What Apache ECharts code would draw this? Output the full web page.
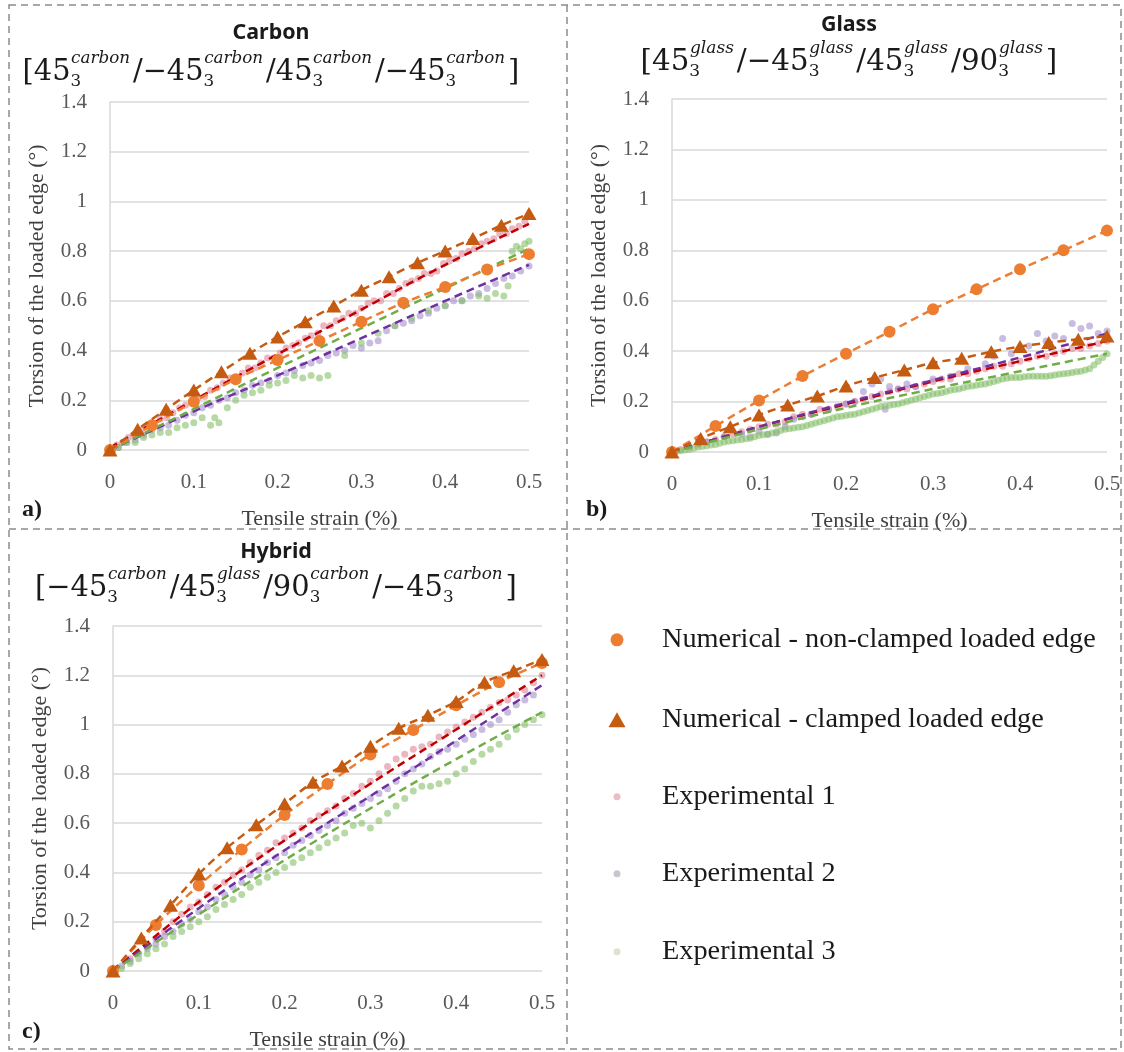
<!DOCTYPE html>
<html>
<head>
<meta charset="utf-8">
<script src="https://cdn.jsdelivr.net/npm/echarts@6.0.0/dist/echarts.min.js"></script>
<style>
  html, body { margin: 0; padding: 0; background: #ffffff; }
  #chart { width: 1124px; height: 1052px; }
</style>
</head>
<body>
<div id="chart"></div>
<script>
// ---------- data ----------
const NAME_FREE = 'Numerical - non-clamped loaded edge';
const NAME_CLAMP = 'Numerical - clamped loaded edge';
const NAME_EXP = ['Experimental 1', 'Experimental 2', 'Experimental 3'];

const yTicks = [0, 0.2, 0.4, 0.6, 0.8, 1, 1.2, 1.4];
const xTicks = [0, 0.1, 0.2, 0.3, 0.4, 0.5];

// strain steps of the two numerical models
const xFree = [0, 0.05, 0.1, 0.15, 0.2, 0.25, 0.3, 0.35, 0.4, 0.45, 0.5];
const xClamp = [0, 0.033, 0.067, 0.1, 0.133, 0.167, 0.2, 0.233, 0.267, 0.3, 0.333, 0.367, 0.4, 0.433, 0.467, 0.5];
// strain points of the dashed trend curves
const xTrend = [0, 0.1, 0.2, 0.3, 0.4, 0.5];

// Carbon
const carbonFree = [0, 0.10, 0.194, 0.285, 0.362, 0.439, 0.516, 0.592, 0.656, 0.726, 0.788];
const carbonClamp = [0, 0.083, 0.164, 0.241, 0.315, 0.389, 0.455, 0.516, 0.579, 0.643, 0.697, 0.753, 0.801, 0.851, 0.904, 0.951];
const carbonExp1 = [[0,0],[0.008,0.02],[0.015,0.03],[0.022,0.05],[0.03,0.055],[0.037,0.08],[0.045,0.09],[0.052,0.1],[0.06,0.125],[0.068,0.13],[0.075,0.15],[0.083,0.17],[0.09,0.18],[0.098,0.19],[0.105,0.21],[0.113,0.215],[0.12,0.24],[0.128,0.25],[0.135,0.27],[0.143,0.29],[0.15,0.29],[0.158,0.31],[0.165,0.33],[0.173,0.33],[0.18,0.35],[0.188,0.37],[0.195,0.37],[0.203,0.39],[0.21,0.41],[0.218,0.42],[0.225,0.43],[0.233,0.45],[0.24,0.46],[0.248,0.47],[0.255,0.5],[0.263,0.5],[0.27,0.52],[0.278,0.53],[0.285,0.55],[0.293,0.55],[0.3,0.57],[0.308,0.59],[0.315,0.6],[0.323,0.6],[0.33,0.63],[0.338,0.63],[0.345,0.65],[0.353,0.67],[0.36,0.68],[0.368,0.69],[0.375,0.71],[0.383,0.71],[0.39,0.72],[0.398,0.75],[0.405,0.76],[0.413,0.77],[0.42,0.79],[0.428,0.8],[0.435,0.81],[0.443,0.83],[0.45,0.84],[0.458,0.85],[0.465,0.87],[0.473,0.87],[0.48,0.89],[0.488,0.9],[0.495,0.92]];
const carbonExp2 = [[0,0],[0.01,0.01],[0.02,0.03],[0.03,0.04],[0.04,0.06],[0.05,0.08],[0.06,0.09],[0.07,0.1],[0.08,0.12],[0.09,0.14],[0.1,0.15],[0.11,0.17],[0.12,0.18],[0.13,0.2],[0.14,0.21],[0.15,0.23],[0.16,0.24],[0.17,0.26],[0.18,0.27],[0.19,0.28],[0.2,0.3],[0.21,0.31],[0.22,0.32],[0.23,0.34],[0.24,0.35],[0.25,0.36],[0.26,0.38],[0.27,0.39],[0.28,0.4],[0.29,0.42],[0.3,0.41],[0.31,0.43],[0.32,0.44],[0.33,0.48],[0.34,0.5],[0.35,0.51],[0.36,0.52],[0.37,0.54],[0.38,0.55],[0.39,0.57],[0.4,0.58],[0.41,0.6],[0.42,0.6],[0.43,0.62],[0.44,0.63],[0.45,0.65],[0.46,0.67],[0.47,0.69],[0.48,0.7],[0.49,0.72],[0.5,0.74]];
const carbonExp3 = [[0,0],[0.01,0.01],[0.02,0.03],[0.03,0.03],[0.04,0.05],[0.05,0.06],[0.06,0.07],[0.07,0.07],[0.08,0.09],[0.09,0.1],[0.1,0.11],[0.11,0.13],[0.12,0.1],[0.125,0.13],[0.13,0.11],[0.14,0.17],[0.15,0.2],[0.16,0.22],[0.17,0.23],[0.18,0.24],[0.19,0.26],[0.2,0.27],[0.21,0.28],[0.22,0.3],[0.23,0.29],[0.24,0.3],[0.25,0.29],[0.26,0.3],[0.28,0.38],[0.3,0.43],[0.32,0.47],[0.34,0.5],[0.36,0.53],[0.38,0.56],[0.4,0.58],[0.42,0.6],[0.44,0.62],[0.45,0.61],[0.46,0.63],[0.47,0.62],[0.475,0.66],[0.48,0.8],[0.485,0.82],[0.49,0.81],[0.495,0.83],[0.5,0.84]];
const carbonTrend1 = [0.01, 0.20, 0.385, 0.565, 0.745, 0.91];
const carbonTrend2 = [0, 0.155, 0.30, 0.45, 0.60, 0.745];
const carbonTrend3 = [0, 0.165, 0.33, 0.49, 0.65, 0.81];

// Glass
const glassFree = [0, 0.103, 0.204, 0.301, 0.39, 0.477, 0.566, 0.645, 0.725, 0.80, 0.878];
const glassClamp = [0, 0.054, 0.10, 0.147, 0.186, 0.222, 0.262, 0.295, 0.325, 0.354, 0.372, 0.398, 0.418, 0.434, 0.447, 0.46];
const glassExp1 = [[0,0],[0.01,0.01],[0.02,0.02],[0.03,0.03],[0.04,0.04],[0.05,0.05],[0.06,0.06],[0.07,0.07],[0.08,0.08],[0.09,0.09],[0.1,0.1],[0.11,0.11],[0.12,0.11],[0.13,0.12],[0.14,0.14],[0.15,0.15],[0.16,0.15],[0.17,0.17],[0.18,0.17],[0.19,0.18],[0.2,0.19],[0.21,0.2],[0.22,0.21],[0.23,0.22],[0.24,0.23],[0.25,0.24],[0.26,0.25],[0.27,0.25],[0.28,0.26],[0.29,0.27],[0.3,0.28],[0.31,0.29],[0.32,0.29],[0.33,0.31],[0.34,0.31],[0.35,0.32],[0.36,0.33],[0.37,0.34],[0.38,0.34],[0.39,0.35],[0.4,0.36],[0.41,0.37],[0.42,0.38],[0.43,0.38],[0.44,0.39],[0.45,0.4],[0.46,0.41],[0.47,0.41],[0.48,0.42],[0.49,0.43],[0.5,0.44]];
const glassExp2 = [[0,0],[0.02,0.02],[0.04,0.04],[0.06,0.06],[0.08,0.07],[0.09,0.06],[0.1,0.08],[0.11,0.07],[0.12,0.075],[0.13,0.1],[0.14,0.13],[0.15,0.14],[0.16,0.15],[0.18,0.17],[0.2,0.19],[0.21,0.2],[0.22,0.24],[0.23,0.27],[0.24,0.29],[0.245,0.17],[0.25,0.26],[0.26,0.25],[0.27,0.27],[0.28,0.26],[0.3,0.29],[0.32,0.3],[0.34,0.33],[0.36,0.35],[0.37,0.38],[0.38,0.45],[0.39,0.39],[0.4,0.41],[0.41,0.42],[0.42,0.47],[0.43,0.44],[0.44,0.46],[0.45,0.45],[0.46,0.51],[0.47,0.49],[0.48,0.5],[0.49,0.47],[0.5,0.48]];
const glassExp3 = [[0,0],[0.005,0.003],[0.01,0.005],[0.015,0.008],[0.02,0.01],[0.025,0.015],[0.03,0.02],[0.035,0.022],[0.04,0.025],[0.045,0.028],[0.05,0.03],[0.055,0.035],[0.06,0.04],[0.065,0.043],[0.07,0.045],[0.075,0.048],[0.08,0.05],[0.085,0.053],[0.09,0.055],[0.095,0.06],[0.1,0.065],[0.105,0.068],[0.11,0.07],[0.115,0.075],[0.12,0.08],[0.125,0.085],[0.13,0.09],[0.135,0.092],[0.14,0.095],[0.145,0.098],[0.15,0.1],[0.155,0.105],[0.16,0.11],[0.165,0.115],[0.17,0.12],[0.175,0.125],[0.18,0.13],[0.185,0.135],[0.19,0.14],[0.195,0.142],[0.2,0.145],[0.205,0.148],[0.21,0.15],[0.215,0.155],[0.22,0.16],[0.225,0.165],[0.23,0.17],[0.235,0.175],[0.24,0.18],[0.245,0.182],[0.25,0.185],[0.255,0.188],[0.26,0.19],[0.265,0.195],[0.27,0.2],[0.275,0.205],[0.28,0.21],[0.285,0.215],[0.29,0.22],[0.295,0.225],[0.3,0.23],[0.305,0.232],[0.31,0.235],[0.315,0.24],[0.32,0.245],[0.325,0.248],[0.33,0.25],[0.335,0.255],[0.34,0.26],[0.345,0.262],[0.35,0.265],[0.355,0.268],[0.36,0.27],[0.365,0.275],[0.37,0.28],[0.375,0.285],[0.38,0.29],[0.385,0.292],[0.39,0.295],[0.395,0.295],[0.4,0.295],[0.405,0.298],[0.41,0.3],[0.415,0.3],[0.42,0.3],[0.425,0.3],[0.43,0.3],[0.435,0.302],[0.44,0.305],[0.445,0.308],[0.45,0.31],[0.455,0.312],[0.46,0.315],[0.465,0.318],[0.47,0.32],[0.475,0.325],[0.48,0.33],[0.485,0.345],[0.49,0.36],[0.495,0.375],[0.5,0.39]];
const glassTrend1 = [0, 0.1, 0.19, 0.28, 0.36, 0.44];
const glassTrend2 = [0, 0.1, 0.195, 0.285, 0.375, 0.47];
const glassTrend3 = [0, 0.09, 0.175, 0.25, 0.32, 0.39];

// Hybrid
const hybridFree = [0, 0.187, 0.347, 0.493, 0.633, 0.759, 0.879, 0.978, 1.078, 1.172, 1.25];
const hybridClamp = [0, 0.134, 0.267, 0.394, 0.50, 0.593, 0.679, 0.766, 0.832, 0.912, 0.985, 1.038, 1.094, 1.172, 1.218, 1.264];
const hybridExp1 = [[0,0],[0.02,0.05],[0.04,0.1],[0.05,0.13],[0.06,0.16],[0.07,0.2],[0.08,0.23],[0.09,0.26],[0.1,0.28],[0.11,0.31],[0.12,0.34],[0.13,0.36],[0.14,0.39],[0.15,0.41],[0.16,0.44],[0.17,0.47],[0.18,0.49],[0.19,0.52],[0.2,0.54],[0.21,0.56],[0.22,0.58],[0.23,0.61],[0.24,0.63],[0.25,0.65],[0.26,0.67],[0.27,0.7],[0.28,0.72],[0.29,0.75],[0.3,0.77],[0.31,0.8],[0.32,0.83],[0.33,0.86],[0.34,0.88],[0.35,0.9],[0.36,0.91],[0.37,0.92],[0.38,0.95],[0.39,0.97],[0.4,0.99],[0.41,1.01],[0.42,1.03],[0.43,1.05],[0.44,1.07],[0.45,1.09],[0.46,1.1],[0.47,1.12],[0.48,1.14],[0.49,1.17],[0.5,1.2]];
const hybridExp2 = [[0,0],[0.01,0.02],[0.02,0.04],[0.03,0.07],[0.04,0.09],[0.05,0.11],[0.06,0.14],[0.07,0.16],[0.08,0.19],[0.09,0.21],[0.1,0.24],[0.11,0.26],[0.12,0.29],[0.13,0.31],[0.14,0.34],[0.15,0.36],[0.16,0.39],[0.17,0.41],[0.18,0.44],[0.19,0.46],[0.2,0.48],[0.21,0.51],[0.22,0.53],[0.23,0.55],[0.24,0.57],[0.25,0.59],[0.26,0.61],[0.27,0.64],[0.28,0.66],[0.29,0.68],[0.3,0.7],[0.31,0.72],[0.32,0.74],[0.33,0.77],[0.34,0.8],[0.35,0.82],[0.36,0.84],[0.37,0.87],[0.38,0.89],[0.39,0.9],[0.4,0.92],[0.41,0.94],[0.42,0.96],[0.43,0.98],[0.44,1.0],[0.45,1.02],[0.46,1.05],[0.47,1.08],[0.48,1.1],[0.49,1.12]];
const hybridExp3 = [[0,0],[0.01,0.01],[0.02,0.03],[0.03,0.05],[0.04,0.07],[0.05,0.09],[0.06,0.11],[0.07,0.14],[0.08,0.16],[0.09,0.18],[0.1,0.2],[0.11,0.22],[0.12,0.25],[0.13,0.27],[0.14,0.29],[0.15,0.31],[0.16,0.34],[0.17,0.36],[0.18,0.38],[0.19,0.4],[0.2,0.42],[0.21,0.44],[0.22,0.46],[0.23,0.48],[0.24,0.5],[0.25,0.52],[0.26,0.54],[0.27,0.56],[0.28,0.59],[0.29,0.6],[0.3,0.58],[0.31,0.61],[0.32,0.64],[0.33,0.67],[0.34,0.7],[0.35,0.73],[0.36,0.75],[0.37,0.75],[0.38,0.76],[0.39,0.77],[0.4,0.8],[0.41,0.82],[0.42,0.85],[0.43,0.88],[0.44,0.9],[0.45,0.92],[0.46,0.95],[0.47,0.98],[0.48,1.0],[0.49,1.02],[0.5,1.04]];
const hybridTrend1 = [0, 0.28, 0.53, 0.76, 0.98, 1.2];
const hybridTrend2 = [0, 0.255, 0.49, 0.71, 0.935, 1.16];
const hybridTrend3 = [0, 0.23, 0.45, 0.66, 0.86, 1.05];

// panel headings and lay-up formulas ([text] = upright, [sup, sub] = scripts)
const panelTitles = ['Carbon', 'Glass', 'Hybrid'];
const panelTags = ['a)', 'b)', 'c)'];
const layupCarbon = ['[45', ['carbon', '3'], '/−45', ['carbon', '3'], '/45', ['carbon', '3'], '/−45', ['carbon', '3'], ']'];
const layupGlass = ['[45', ['glass', '3'], '/−45', ['glass', '3'], '/45', ['glass', '3'], '/90', ['glass', '3'], ']'];
const layupHybrid = ['[−45', ['carbon', '3'], '/45', ['glass', '3'], '/90', ['carbon', '3'], '/−45', ['carbon', '3'], ']'];

// ---------- styling ----------
const SERIF = '"Liberation Serif", "Times New Roman", serif';
const MATH = '"DejaVu Serif", serif';
const SANS = '"Noto Sans", "Open Sans", sans-serif';
const C_FREE = '#ED7D31', C_CLAMP = '#C55A11';
const C_EXP = ['#E08597', '#9A86C8', '#86C06A'];
const EXP_OPACITY = [0.6, 0.55, 0.6];
const C_TREND = ['#C00000', '#7030A0', '#70AD47'];
const C_LEGEND_EXP = ['#EBBEC5', '#C9C5D0', '#DCE3CF'];
const GRID_LINE = '#D9D9D9';

const panels = [
  { free: carbonFree, clamp: carbonClamp, exp: [carbonExp1, carbonExp2, carbonExp3], trend: [carbonTrend1, carbonTrend2, carbonTrend3],
    grid: { left: 110, top: 102, width: 419, height: 348 }, layup: layupCarbon,
    titleX: 271, titleY: 33, layupY: 72, layupW: 497, tag: [22, 510] },
  { free: glassFree, clamp: glassClamp, exp: [glassExp1, glassExp2, glassExp3], trend: [glassTrend1, glassTrend2, glassTrend3],
    grid: { left: 672, top: 99, width: 435, height: 353 }, layup: layupGlass,
    titleX: 849, titleY: 25, layupY: 62, layupW: 417, tag: [586, 510] },
  { free: hybridFree, clamp: hybridClamp, exp: [hybridExp1, hybridExp2, hybridExp3], trend: [hybridTrend1, hybridTrend2, hybridTrend3],
    grid: { left: 113, top: 626, width: 429, height: 351 }, layup: layupHybrid,
    titleX: 276, titleY: 552, layupY: 588, layupW: 482, tag: [22, 1032] }
];

// ---------- text measuring helpers ----------
const mctx = document.createElement('canvas').getContext('2d');
function textWidth(str, font) { mctx.font = font; return mctx.measureText(str).width; }
function fitSize(str, weight, family, target) {
  return 100 * target / textWidth(str, weight + ' 100px ' + family);
}

// lay-up formula as a row of text pieces with super/subscripts
function layupGraphic(parts, cx, cy, targetW) {
  const ratio = 0.58;
  const widthAt = (B) => {
    const s = B * ratio;
    return parts.map(p => typeof p === 'string'
      ? textWidth(p, B + 'px ' + MATH)
      : Math.max(textWidth(p[0], 'italic ' + s + 'px ' + MATH), textWidth(p[1], s + 'px ' + MATH)) + 0.12 * B);
  };
  const w100 = widthAt(100).reduce((a, b) => a + b, 0);
  const B = 100 * targetW / w100;
  const s = B * ratio;
  const widths = widthAt(B);
  let x = cx - targetW / 2;
  const els = [];
  parts.forEach((p, i) => {
    if (typeof p === 'string') {
      els.push({ type: 'text', x: x, y: cy, silent: true, style: { text: p, font: B + 'px ' + MATH, fill: '#1a1a1a', align: 'left', verticalAlign: 'middle' } });
    } else {
      els.push({ type: 'text', x: x + 0.02 * B, y: cy - 0.45 * B, silent: true, style: { text: p[0], font: 'italic ' + s + 'px ' + MATH, fill: '#1a1a1a', align: 'left', verticalAlign: 'middle' } });
      els.push({ type: 'text', x: x, y: cy + 0.33 * B, silent: true, style: { text: p[1], font: s + 'px ' + MATH, fill: '#1a1a1a', align: 'left', verticalAlign: 'middle' } });
    }
    x += widths[i];
  });
  return els;
}

// ---------- option ----------
const grids = [], xAxes = [], yAxes = [], series = [], graphics = [];
const titleSize = fitSize('Carbon', 'bold', SANS, 77);

panels.forEach((p, i) => {
  grids.push(Object.assign({ containLabel: false }, p.grid));
  xAxes.push({
    gridIndex: i, type: 'value', min: xTicks[0], max: xTicks[xTicks.length - 1], interval: 0.1,
    axisLine: { show: false }, axisTick: { show: false }, splitLine: { show: false },
    axisLabel: { margin: 22, fontFamily: SERIF, fontSize: 21, color: '#595959' },
    name: 'Tensile strain (%)', nameLocation: 'middle', nameGap: 58,
    nameTextStyle: { fontFamily: SERIF, fontSize: 22, color: '#404040' }
  });
  yAxes.push({
    gridIndex: i, type: 'value', min: yTicks[0], max: yTicks[yTicks.length - 1], interval: 0.2,
    axisLine: { show: true, lineStyle: { color: GRID_LINE, width: 1.5 } }, axisTick: { show: false },
    splitLine: { show: true, lineStyle: { color: GRID_LINE, width: 1.5 } },
    axisLabel: { margin: 23, fontFamily: SERIF, fontSize: 21, color: '#595959' },
    name: 'Torsion of the loaded edge (°)', nameLocation: 'middle', nameGap: 62,
    nameTextStyle: { fontFamily: SERIF, fontSize: 22, color: '#404040' }
  });

  // experimental readings
  p.exp.forEach((d, k) => {
    series.push({
      name: NAME_EXP[k], type: 'scatter', xAxisIndex: i, yAxisIndex: i, data: d,
      symbol: 'circle', symbolSize: 7, z: 2, silent: true,
      itemStyle: { color: C_EXP[k], opacity: EXP_OPACITY[k] }
    });
  });
  // trend curves of the experimental readings
  p.trend.forEach((t, k) => {
    series.push({
      name: 'Trend ' + (k + 1), type: 'line', xAxisIndex: i, yAxisIndex: i,
      data: xTrend.map((x, j) => [x, t[j]]), smooth: true, showSymbol: false, z: 3, silent: true,
      lineStyle: { color: C_TREND[k], width: 2.5, type: [8, 5] }
    });
  });
  // numerical models
  series.push({
    name: NAME_FREE, type: 'line', xAxisIndex: i, yAxisIndex: i,
    data: xFree.map((x, j) => [x, p.free[j]]), smooth: 0.3, symbol: 'circle', symbolSize: 12, z: 4, silent: true,
    itemStyle: { color: C_FREE }, lineStyle: { color: C_FREE, width: 2.5, type: [8, 5] }
  });
  series.push({
    name: NAME_CLAMP, type: 'line', xAxisIndex: i, yAxisIndex: i,
    data: xClamp.map((x, j) => [x, p.clamp[j]]), smooth: 0.3, symbol: 'triangle', symbolSize: [15, 13], z: 5, silent: true,
    itemStyle: { color: C_CLAMP }, lineStyle: { color: C_CLAMP, width: 2.5, type: [8, 5] }
  });

  // headings
  graphics.push({ type: 'text', x: p.titleX, y: p.titleY, silent: true, style: { text: panelTitles[i], font: 'bold ' + titleSize + 'px ' + SANS, fill: '#1a1a1a', align: 'center', verticalAlign: 'middle' } });
  layupGraphic(p.layup, p.titleX, p.layupY, p.layupW).forEach(e => graphics.push(e));
  graphics.push({ type: 'text', x: p.tag[0], y: p.tag[1], silent: true, style: { text: panelTags[i], font: 'bold 24px ' + SERIF, fill: '#1a1a1a', align: 'left', verticalAlign: 'middle' } });
});

// dashed frame splitting the figure into four boxes
const dash = { stroke: '#8C8C8C', lineWidth: 1.5, lineDash: [7, 5], fill: null };
graphics.push({ type: 'rect', shape: { x: 9, y: 5, width: 1112, height: 1044 }, style: dash, silent: true });
graphics.push({ type: 'line', shape: { x1: 567, y1: 5, x2: 567, y2: 1049 }, style: dash, silent: true });
graphics.push({ type: 'line', shape: { x1: 9, y1: 529, x2: 1121, y2: 529 }, style: dash, silent: true });

// legend, one component per row
const legendSize = fitSize(NAME_FREE, 'normal', SERIF, 434);
const legendRows = [
  { name: NAME_FREE, icon: 'circle', w: 13, h: 13, y: 640, color: C_FREE },
  { name: NAME_CLAMP, icon: 'triangle', w: 17, h: 15, y: 720, color: C_CLAMP },
  { name: NAME_EXP[0], icon: 'circle', w: 7, h: 7, y: 797, color: C_LEGEND_EXP[0] },
  { name: NAME_EXP[1], icon: 'circle', w: 7, h: 7, y: 874, color: C_LEGEND_EXP[1] },
  { name: NAME_EXP[2], icon: 'circle', w: 7, h: 7, y: 952, color: C_LEGEND_EXP[2] }
];
const legends = legendRows.map(r => ({
  orient: 'vertical', left: 617 - r.w / 2, top: r.y - Math.max(r.h, legendSize) / 2, padding: 0,
  itemWidth: r.w, itemHeight: r.h, selectedMode: false,
  data: [{ name: r.name, icon: r.icon, itemStyle: { color: r.color, opacity: 1 } }],
  textStyle: { fontFamily: SERIF, fontSize: legendSize, color: '#1a1a1a', padding: [0, 0, 0, 662 - (617 + r.w / 2) - 5] }
}));

const chart = echarts.init(document.getElementById('chart'), null, { renderer: 'canvas' });
chart.setOption({
  backgroundColor: '#ffffff',
  animation: false,
  grid: grids,
  xAxis: xAxes,
  yAxis: yAxes,
  legend: legends,
  series: series,
  graphic: { elements: graphics }
});
</script>
</body>
</html>
